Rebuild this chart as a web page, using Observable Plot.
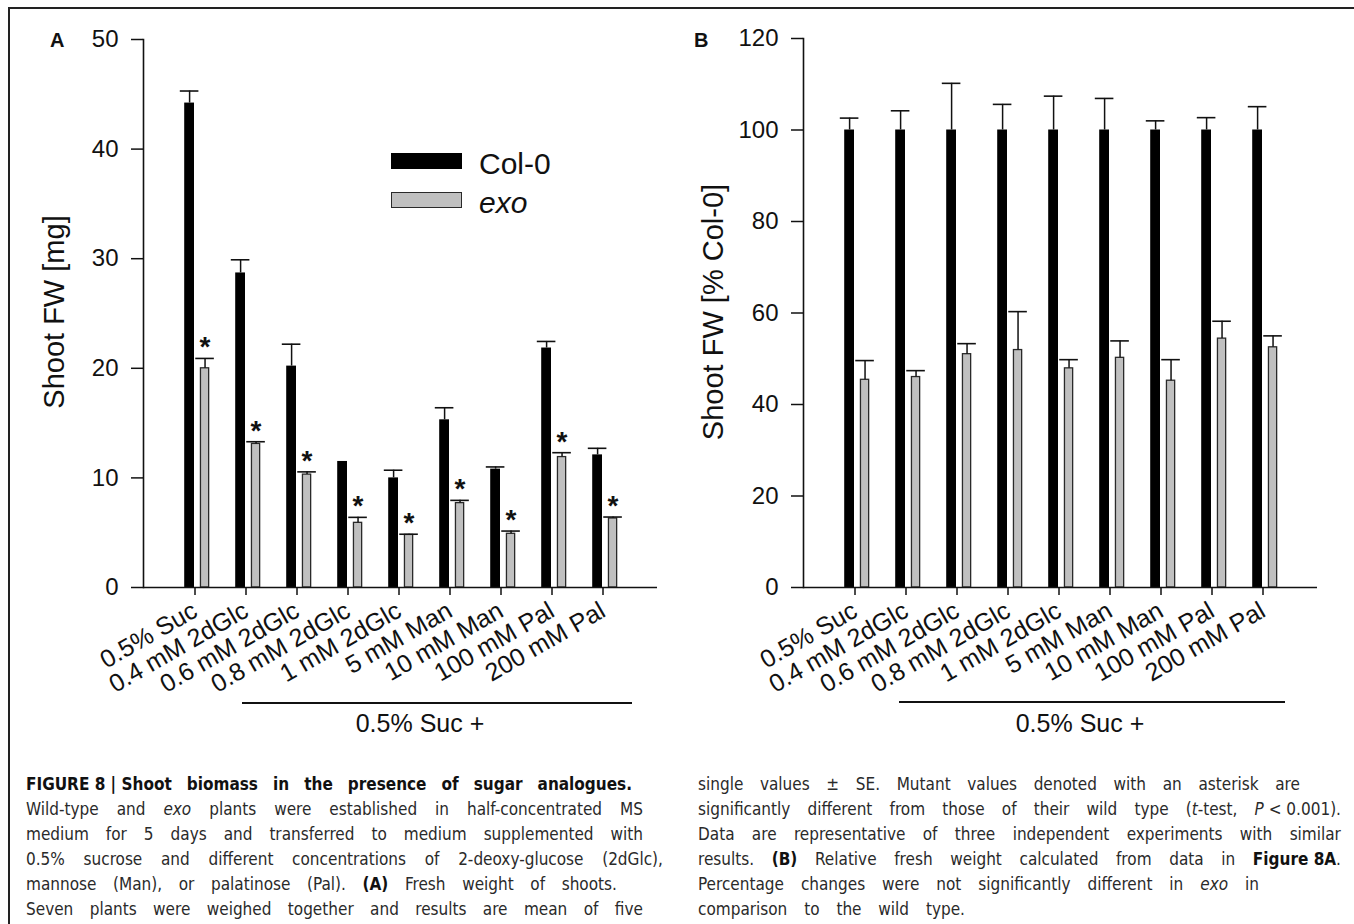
<!DOCTYPE html>
<html>
<head>
<meta charset="utf-8">
<script src="https://cdn.jsdelivr.net/npm/d3@7"></script>
<script src="https://cdn.jsdelivr.net/npm/@observablehq/plot@0.6"></script>
<style>
  body { margin: 0; background: #fff; }
  #fig { position: relative; width: 1354px; height: 924px; overflow: hidden; background: #fff;
         font-family: "Liberation Sans", Arial, Helvetica, sans-serif; color: #111; }
  #frameTop { position: absolute; left: 8px; top: 7px; right: 0; border-top: 2px solid #222; }
  #frameLeft { position: absolute; left: 8px; top: 7px; bottom: 0; border-left: 2px solid #222; }
  .abs { position: absolute; white-space: nowrap; line-height: 1; }
  .panel { position: absolute; top: 0; }
  .panel svg { overflow: visible; }
  .ylab { position: absolute; white-space: nowrap; font-size: 29px; line-height: 1;
          transform: translate(-50%, -50%) rotate(-90deg); }
  .letter { font-size: 20px; font-weight: bold; }
  .leg { position: absolute; width: 71px; height: 16px; }
  .sucplus { font-size: 25px; transform: translateX(-50%); }
  .under { position: absolute; border-top: 2px solid #111; height: 0; }
  .cap { position: absolute; display: flex; justify-content: space-between; gap: 4px;
         font-family: "Liberation Sans Narrow", "DejaVu Sans Condensed", "Liberation Sans", sans-serif;
         font-size: 17px; line-height: 25px; height: 25px; color: #2a2a2a; }
  .cap span { white-space: nowrap; }
  .cap b { color: #111; }
</style>
</head>
<body>
<div id="fig">
  <div id="frameTop"></div>
  <div id="frameLeft"></div>
  <div id="panelA" class="panel" style="left:0px;"></div>
  <div id="panelB" class="panel" style="left:660px;"></div>
</div>
<script>
// ---------------- data ----------------
const categories = ["0.5% Suc", "0.4 mM 2dGlc", "0.6 mM 2dGlc", "0.8 mM 2dGlc", "1 mM 2dGlc",
                    "5 mM Man", "10 mM Man", "100 mM Pal", "200 mM Pal"];
const seriesNames = ["Col-0", "exo"];

// Panel A: shoot fresh weight [mg], mean and SE
const colA    = [44.2, 28.7, 20.2, 11.5, 10.0, 15.3, 10.8, 21.85, 12.1];
const colAErr = [1.1, 1.2, 2.0, 0, 0.7, 1.1, 0.2, 0.6, 0.6];
const exoA    = [20.0, 13.1, 10.3, 5.9, 4.8, 7.7, 4.9, 11.9, 6.3];
const exoAErr = [0.9, 0.2, 0.25, 0.5, 0.06, 0.25, 0.25, 0.4, 0.13];
const exoASig = [true, true, true, true, true, true, true, true, true];
const yTicksA = [0, 10, 20, 30, 40, 50];

// Panel B: shoot FW [% Col-0]
const colB    = [100, 100, 100, 100, 100, 100, 100, 100, 100];
const colBErr = [2.6, 4.2, 10.2, 5.6, 7.4, 6.9, 2.0, 2.7, 5.1];
const exoB    = [45.4, 46.0, 51.0, 51.9, 47.9, 50.2, 45.2, 54.4, 52.5];
const exoBErr = [4.2, 1.4, 2.3, 8.4, 1.9, 3.7, 4.6, 3.8, 2.5];
const yTicksB = [0, 20, 40, 60, 80, 100, 120];

// ---------------- drawing ----------------
function makePanel({col, colErr, exo, exoErr, sig, yDomain, yTicks, width, height,
                    marginLeft, marginRight, marginTop, marginBottom}) {
  const rows = categories.map((c, i) => ({c, col: col[i], ce: colErr[i], exo: exo[i], ee: exoErr[i],
                                          sig: sig ? sig[i] : false}));
  const step = (width - marginLeft - marginRight) / (categories.length + 1);
  const half = step / 2;
  const blk = [-12.5, -2.3], gry = [3.1, 13.0];
  const blkC = (blk[0] + blk[1]) / 2, gryC = (gry[0] + gry[1]) / 2;
  const capHalf = 9.5;
  const ink = "#111";
  return Plot.plot({
    width, height, marginLeft, marginRight, marginTop, marginBottom,
    x: {type: "band", domain: categories, paddingInner: 0, paddingOuter: 0.5, align: 0.5},
    y: {domain: yDomain},
    style: {fontFamily: "'Liberation Sans', Arial, sans-serif", fontSize: "24px", color: ink,
            background: "transparent", overflow: "visible"},
    marks: [
      Plot.barY(rows, {x: "c", y: "col", fill: "#000",
                       insetLeft: half + blk[0], insetRight: half - blk[1]}),
      Plot.barY(rows, {x: "c", y: "exo", fill: "#c0c0c0", stroke: "#2a2a2a", strokeWidth: 1.3,
                       insetLeft: half + gry[0] + 0.65, insetRight: half - gry[1] + 0.65}),
      Plot.ruleX(rows.filter(d => d.ce > 0), {x: "c", y1: "col", y2: d => d.col + d.ce, dx: blkC,
                       stroke: ink, strokeWidth: 1.5}),
      Plot.tickY(rows.filter(d => d.ce > 0), {x: "c", y: d => d.col + d.ce,
                       insetLeft: half + blkC - capHalf, insetRight: half - blkC - capHalf,
                       stroke: ink, strokeWidth: 1.6}),
      Plot.ruleX(rows.filter(d => d.ee > 0), {x: "c", y1: "exo", y2: d => d.exo + d.ee, dx: gryC,
                       stroke: ink, strokeWidth: 1.5}),
      Plot.tickY(rows.filter(d => d.ee > 0), {x: "c", y: d => d.exo + d.ee,
                       insetLeft: half + gryC - capHalf, insetRight: half - gryC - capHalf,
                       stroke: ink, strokeWidth: 1.6}),
      Plot.text(rows.filter(d => d.sig), {x: "c", y: d => d.exo + d.ee, text: () => "*",
                       dx: gryC, dy: -11, fontSize: 28, fontWeight: "bold", fill: ink}),
      Plot.ruleY([yDomain[0]], {stroke: ink, strokeWidth: 1.6}),
      Plot.frame({anchor: "left", stroke: ink, strokeWidth: 1.6}),
      Plot.axisY({ticks: yTicks, tickSize: 12, tickPadding: 13, strokeWidth: 1.5, fontSize: 24,
                  label: null, fill: ink, stroke: ink}),
      Plot.axisX({tickSize: 8, tickPadding: 13, tickRotate: -30, strokeWidth: 1.5, fontSize: 25,
                  dx: -2, label: null, fill: ink, stroke: ink})
    ]
  });
}

document.getElementById("panelA").append(makePanel({
  col: colA, colErr: colAErr, exo: exoA, exoErr: exoAErr, sig: exoASig,
  yDomain: [0, 50], yTicks: yTicksA, width: 680, height: 680,
  marginLeft: 143, marginRight: 23, marginTop: 39, marginBottom: 93
}));
document.getElementById("panelB").append(makePanel({
  col: colB, colErr: colBErr, exo: exoB, exoErr: exoBErr, sig: null,
  yDomain: [0, 120], yTicks: yTicksB, width: 694, height: 680,
  marginLeft: 143, marginRight: 37, marginTop: 38, marginBottom: 93
}));

// ---------------- text decorations ----------------
const fig = document.getElementById("fig");
function addDiv(cls, html, style) {
  const d = document.createElement("div");
  d.className = cls;
  d.innerHTML = html;
  Object.assign(d.style, style);
  fig.append(d);
  return d;
}
// panel letters
addDiv("abs letter", "A", {left: "50px", top: "30px"});
addDiv("abs letter", "B", {left: "694px", top: "30px"});
// y labels
addDiv("ylab", "Shoot FW [mg]", {left: "54px", top: "312px"});
addDiv("ylab", "Shoot FW [% Col-0]", {left: "713px", top: "312px"});
// legend (panel A)
addDiv("leg", "", {left: "391px", top: "153px", background: "#000"});
addDiv("leg", "", {left: "391px", top: "192px", width: "69px", height: "14px",
                   background: "#c0c0c0", border: "1.5px solid #2a2a2a"});
addDiv("abs", seriesNames[0], {left: "479px", top: "149px", fontSize: "30px"});
addDiv("abs", "<i>" + seriesNames[1] + "</i>", {left: "479px", top: "188px", fontSize: "30px"});
// group bracket below x labels
addDiv("under", "", {left: "242px", top: "702px", width: "390px"});
addDiv("under", "", {left: "899px", top: "701px", width: "386px"});
addDiv("abs sucplus", "0.5% Suc +", {left: "420px", top: "711px"});
addDiv("abs sucplus", "0.5% Suc +", {left: "1080px", top: "711px"});

// caption (two columns)
const capLeft = [
  ["<b>FIGURE&nbsp;8&nbsp;|&nbsp;Shoot</b> <b>biomass</b> <b>in</b> <b>the</b> <b>presence</b> <b>of</b> <b>sugar</b> <b>analogues.</b>", 606],
  ["Wild-type and <i>exo</i> plants were established in half-concentrated MS", 617],
  ["medium for 5 days and transferred to medium supplemented with", 617],
  ["0.5% sucrose and different concentrations of 2-deoxy-glucose (2dGlc),", 637],
  ["mannose (Man), or palatinose (Pal). <b>(A)</b> Fresh weight of shoots.", 591],
  ["Seven plants were weighed together and results are mean of five", 617]
];
const capRight = [
  ["single values ± SE. Mutant values denoted with an asterisk are", 602],
  ["significantly different from those of their wild type (<i>t</i>-test, <i>P</i>&nbsp;&lt;&nbsp;0.001).", 643],
  ["Data are representative of three independent experiments with similar", 643],
  ["results. <b>(B)</b> Relative fresh weight calculated from data in <b>Figure&nbsp;8A</b>.", 643],
  ["Percentage changes were not significantly different in <i>exo</i> in", 561],
  ["comparison to the wild type.", 267]
];
function addCaption(lines, left) {
  lines.forEach(([html, w], i) => {
    const d = document.createElement("div");
    d.className = "cap";
    Object.assign(d.style, {left: left + "px", top: (772 + i * 25) + "px", width: w + "px"});
    d.innerHTML = html.split(" ").map(t => "<span>" + t + "</span>").join("");
    fig.append(d);
  });
}
addCaption(capLeft, 26);
addCaption(capRight, 698);
</script>
</body>
</html>
